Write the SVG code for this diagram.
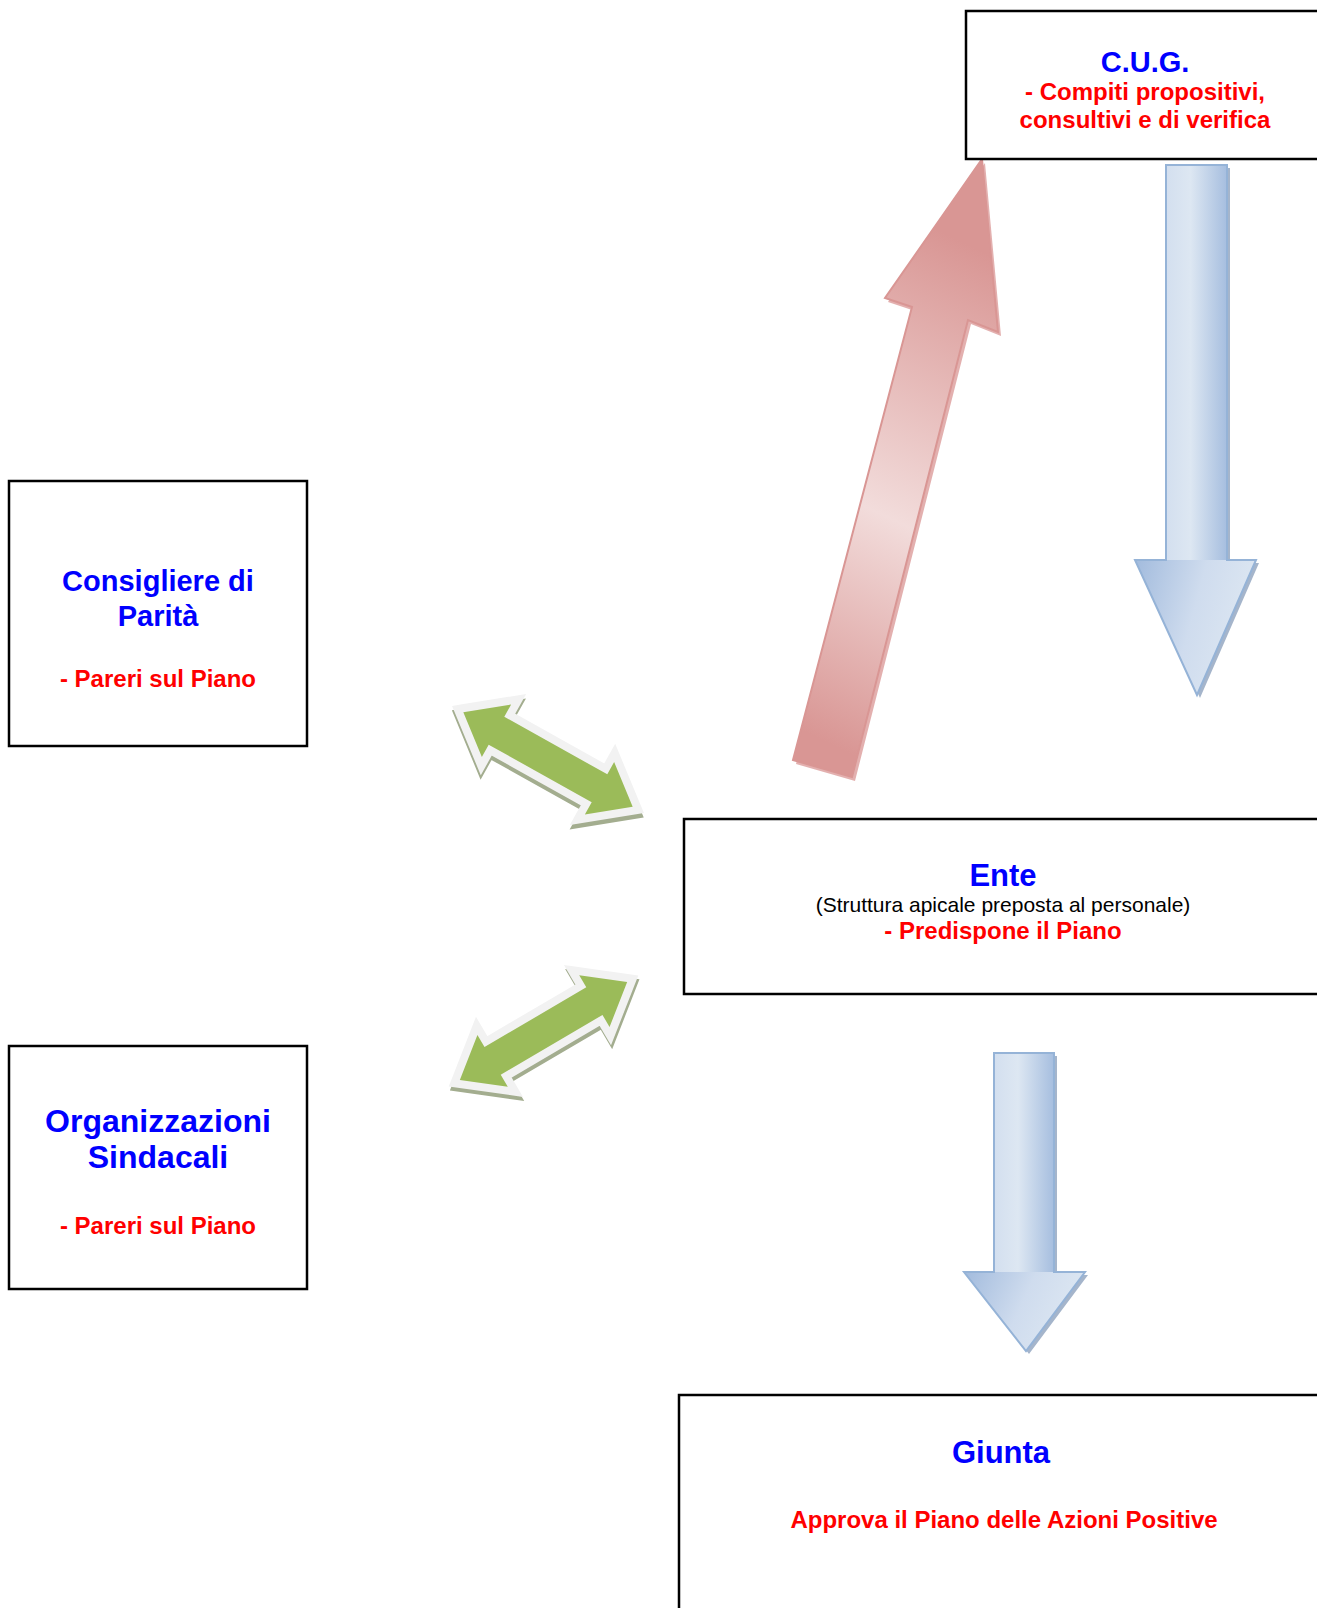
<svg xmlns="http://www.w3.org/2000/svg" width="1317" height="1608" viewBox="0 0 1317 1608">
<style>
.box{fill:#fff;stroke:#000;stroke-width:2.5}
.t{font-family:"Liberation Sans",Arial,sans-serif;font-weight:bold;text-anchor:middle}
.r{font-family:"Liberation Sans",Arial,sans-serif;font-weight:normal;text-anchor:middle}
.blue{fill:#0000ff}
.red{fill:#ff0000}
.blk{fill:#000}
.gshadow{fill:#a3ad8f;stroke:#a3ad8f;stroke-width:16;stroke-linejoin:miter;stroke-miterlimit:10}
.gborder{fill:#f2f2f2;stroke:#f2f2f2;stroke-width:16;stroke-linejoin:miter;stroke-miterlimit:10}
.gfill{fill:#9bbb59}
.bshadow{fill:#7f95b5;opacity:0.7}
.bstroke{fill:none;stroke:#95b3d7;stroke-width:2}
</style>
<defs>
<linearGradient id="gRed" gradientUnits="userSpaceOnUse" x1="780" y1="720" x2="1000" y2="260">
<stop offset="0" stop-color="#d99694"/>
<stop offset="0.45" stop-color="#f2dcdb"/>
<stop offset="1" stop-color="#d99694"/>
</linearGradient>
<linearGradient id="gShaft" x1="0" y1="0" x2="1" y2="0">
<stop offset="0" stop-color="#d3dfef"/>
<stop offset="0.4" stop-color="#dde7f2"/>
<stop offset="1" stop-color="#a6bedf"/>
</linearGradient>
<linearGradient id="gHead" x1="0" y1="0" x2="1" y2="0.3">
<stop offset="0" stop-color="#a2bbdd"/>
<stop offset="0.55" stop-color="#cfdcee"/>
<stop offset="1" stop-color="#dde7f2"/>
</linearGradient>
<polygon id="garrow" points="-97,0 -59,-30 -59,-16 59,-16 59,-30 97,0 59,30 59,16 -59,16 -59,30"/>
</defs>

<g id="connectors">
  <g id="arrow-ente-cug">
    <polygon points="796,764 915,311 888,302 985,163 1001,336 971,324 855,781" fill="#c0504d" opacity="0.45"/>
    <polygon points="793,760 912,307 885,298 982,159 998,332 968,320 852,777" fill="url(#gRed)" stroke="#d99694" stroke-width="2"/>
  </g>
  <g id="arrow-cug-ente">
    <polygon class="bshadow" points="1169,168 1230,168 1230,563 1259,563 1200,698 1138,563 1169,563"/>
    <rect x="1166" y="165" width="61" height="396" fill="url(#gShaft)"/>
    <polygon points="1135,560 1256,560 1197,695" fill="url(#gHead)"/>
    <polygon class="bstroke" points="1166,165 1227,165 1227,560 1256,560 1197,695 1135,560 1166,560"/>
  </g>
  <g id="arrow-ente-giunta">
    <polygon class="bshadow" points="997,1056 1057,1056 1057,1275 1088,1275 1029,1354 967,1275 997,1275"/>
    <rect x="994" y="1053" width="60" height="220" fill="url(#gShaft)"/>
    <polygon points="964,1272 1085,1272 1026,1351" fill="url(#gHead)"/>
    <polygon class="bstroke" points="994,1053 1054,1053 1054,1272 1085,1272 1026,1351 964,1272 994,1272"/>
  </g>
  <g id="arrow-consigliere-ente" transform="translate(548,759.5) rotate(29.2)">
    <use href="#garrow" class="gshadow" transform="translate(2,4)"/>
    <use href="#garrow" class="gborder"/>
    <use href="#garrow" class="gfill"/>
  </g>
  <g id="arrow-organizzazioni-ente" transform="translate(543.5,1031) rotate(-30.4)">
    <use href="#garrow" class="gshadow" transform="translate(-1,4)"/>
    <use href="#garrow" class="gborder"/>
    <use href="#garrow" class="gfill"/>
  </g>
</g>

<g id="node-cug">
  <rect class="box" x="966" y="11" width="400" height="148"/>
  <text class="t blue" x="1145" y="72" font-size="29">C.U.G.</text>
  <text class="t red" x="1145" y="100" font-size="24">- Compiti propositivi,</text>
  <text class="t red" x="1145" y="128" font-size="24">consultivi e di verifica</text>
</g>

<g id="node-consigliere">
  <rect class="box" x="9" y="481" width="298" height="265"/>
  <text class="t blue" x="158" y="591" font-size="29">Consigliere di</text>
  <text class="t blue" x="158" y="626" font-size="29">Parità</text>
  <text class="t red" x="158" y="687" font-size="24">- Pareri sul Piano</text>
</g>

<g id="node-organizzazioni">
  <rect class="box" x="9" y="1046" width="298" height="243"/>
  <text class="t blue" x="158" y="1132" font-size="32">Organizzazioni</text>
  <text class="t blue" x="158" y="1168" font-size="32">Sindacali</text>
  <text class="t red" x="158" y="1234" font-size="24">- Pareri sul Piano</text>
</g>

<g id="node-ente">
  <rect class="box" x="684" y="819" width="700" height="175"/>
  <text class="t blue" x="1003" y="886" font-size="31">Ente</text>
  <text class="r blk" x="1003" y="912" font-size="21">(Struttura apicale preposta al personale)</text>
  <text class="t red" x="1003" y="939" font-size="24">- Predispone il Piano</text>
</g>

<g id="node-giunta">
  <rect class="box" x="679" y="1395" width="700" height="260"/>
  <text class="t blue" x="1001" y="1463" font-size="31">Giunta</text>
  <text class="t red" x="1004" y="1528" font-size="24">Approva il Piano delle Azioni Positive</text>
</g>
</svg>
